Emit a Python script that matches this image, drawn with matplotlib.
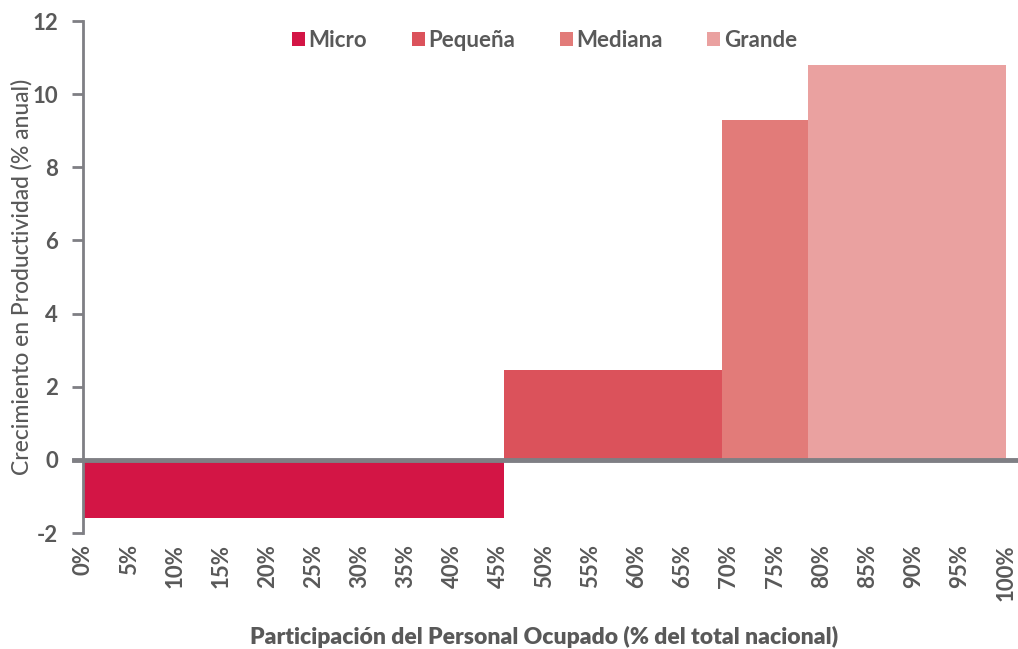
import matplotlib
matplotlib.use("Agg")
import matplotlib.pyplot as plt
import numpy as np

categories = ["Micro", "Pequeña", "Mediana", "Grande"]
employment_share = [45.6, 23.7, 9.3, 21.4]   # % del total nacional
productivity_growth = [-1.6, 2.45, 9.3, 10.8]  # % anual
colors = ["#D31545", "#DB525B", "#E27B79", "#EAA1A0"]
xtick_values = list(range(0, 101, 5))
xtick_labels = [f"{v}%" for v in xtick_values]
ytick_values = list(range(-2, 13, 2))

plt.rcParams['font.family'] = ['Lato', 'DejaVu Sans']
text_color = "#595959"
axis_color = "#7F7F84"

fig = plt.figure(figsize=(10.18, 6.49), dpi=100)
ax = fig.add_axes([0.0815, 0.1787, 0.9065, 0.7889])

lefts = np.concatenate([[0], np.cumsum(employment_share)[:-1]])
for left, w, h, c, lab in zip(lefts, employment_share, productivity_growth, colors, categories):
    ax.bar(left, h, width=w, align='edge', color=c, label=lab, linewidth=0, zorder=2)

ax.set_xlim(0, 100)
ax.set_ylim(-2, 12)
ax.axhline(0, xmin=-0.01, xmax=1.013, color=axis_color, linewidth=3.5, clip_on=False, zorder=3)

for s in ["top", "right", "bottom"]:
    ax.spines[s].set_visible(False)
ax.spines["left"].set_color(axis_color)
ax.spines["left"].set_linewidth(2)

ax.set_yticks(ytick_values)
ax.set_yticklabels([str(v) for v in ytick_values], fontsize=16, fontweight='bold', color=text_color)
ax.tick_params(axis='y', length=8, width=2, color=axis_color, pad=10)

ax.set_xticks(xtick_values)
ax.set_xticklabels(xtick_labels, rotation=90, fontsize=16, fontweight='bold', color=text_color)
ax.tick_params(axis='x', length=0, pad=8)

ax.set_ylabel("Crecimiento en Productividad (% anual)", fontsize=16.5, fontweight='medium',
              color=text_color, labelpad=0)
ax.set_xlabel("Participación del Personal Ocupado (% del total nacional)", fontsize=16.5,
              fontweight='heavy', color=text_color, labelpad=18)

leg = ax.legend(loc='upper center', bbox_to_anchor=(0.5, 1.022), ncol=4, frameon=False,
                handlelength=0.6, handleheight=0.6, handletextpad=0.15, columnspacing=2.0,
                prop={'size': 16, 'weight': 'bold'})
for t in leg.get_texts():
    t.set_color(text_color)

fig.savefig("out.png", dpi=100)
